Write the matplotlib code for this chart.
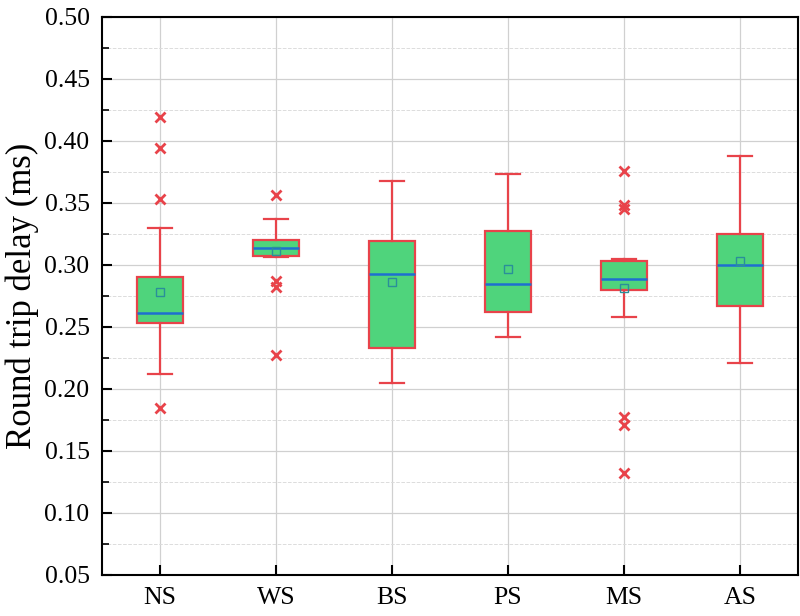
import matplotlib
matplotlib.use("Agg")
import matplotlib.pyplot as plt
from matplotlib.ticker import MultipleLocator

# box statistics (ms)
categorias = ["NS", "WS", "BS", "PS", "MS", "AS"]
whisker_low = [0.212, 0.306, 0.205, 0.242, 0.258, 0.221]
q1 = [0.253, 0.307, 0.233, 0.262, 0.280, 0.267]
mediana = [0.261, 0.314, 0.293, 0.285, 0.289, 0.300]
q3 = [0.290, 0.320, 0.319, 0.327, 0.303, 0.325]
whisker_high = [0.330, 0.337, 0.368, 0.373, 0.305, 0.388]
media = [0.278, 0.311, 0.286, 0.297, 0.281, 0.303]
outliers = [
    [0.419, 0.394, 0.353, 0.185],
    [0.356, 0.287, 0.282, 0.227],
    [],
    [],
    [0.376, 0.348, 0.345, 0.177, 0.171, 0.132],
    [],
]

VERMELHO = "#e8434a"
VERDE = "#4fd47c"
AZUL = "#1f6fd0"

plt.rcParams["font.family"] = ["Liberation Serif", "DejaVu Serif"]

stats = []
for i, nome in enumerate(categorias):
    stats.append({
        "label": nome,
        "whislo": whisker_low[i],
        "q1": q1[i],
        "med": mediana[i],
        "q3": q3[i],
        "whishi": whisker_high[i],
        "mean": media[i],
        "fliers": outliers[i],
    })

fig = plt.figure(figsize=(8, 6.16), dpi=100)
ax = fig.add_axes([0.1275, 0.0666, 0.87, 0.906])

ax.bxp(
    stats,
    positions=range(1, len(categorias) + 1),
    widths=0.4,
    patch_artist=True,
    showmeans=True,
    boxprops=dict(facecolor=VERDE, edgecolor=VERMELHO, linewidth=1.6),
    whiskerprops=dict(color=VERMELHO, linewidth=1.6),
    capprops=dict(color=VERMELHO, linewidth=1.6),
    capwidths=0.2,
    medianprops=dict(color=AZUL, linewidth=1.8),
    meanprops=dict(marker="s", markerfacecolor="none", markeredgecolor="#2a8f9a",
                   markersize=6, markeredgewidth=1.0),
    flierprops=dict(marker="x", markeredgecolor=VERMELHO, markersize=7,
                    markeredgewidth=2.0),
    zorder=3,
)

ax.set_xlim(0.5, 6.5)
ax.set_ylim(0.05, 0.50)
ax.yaxis.set_major_locator(MultipleLocator(0.05))
ax.yaxis.set_minor_locator(MultipleLocator(0.025))
ax.set_yticklabels([f"{v:.2f}" for v in ax.get_yticks()])

ax.grid(True, which="major", color="#d0d0d0", linewidth=0.9, zorder=0)
ax.grid(True, which="minor", axis="y", color="#dcdcdc", linestyle="--",
        linewidth=0.7, zorder=0)
ax.set_axisbelow(True)

ax.tick_params(axis="both", which="major", direction="in", length=7, width=1.5,
               labelsize=18.5, top=False, right=False)
ax.tick_params(axis="y", which="minor", direction="in", length=5, width=1.2)
ax.tick_params(axis="x", pad=9)
ax.tick_params(axis="y", which="major", pad=9)

for s in ax.spines.values():
    s.set_linewidth(1.5)

ax.set_ylabel("Round trip delay (ms)", fontsize=25, labelpad=4)

fig.savefig("out.png", dpi=100)
